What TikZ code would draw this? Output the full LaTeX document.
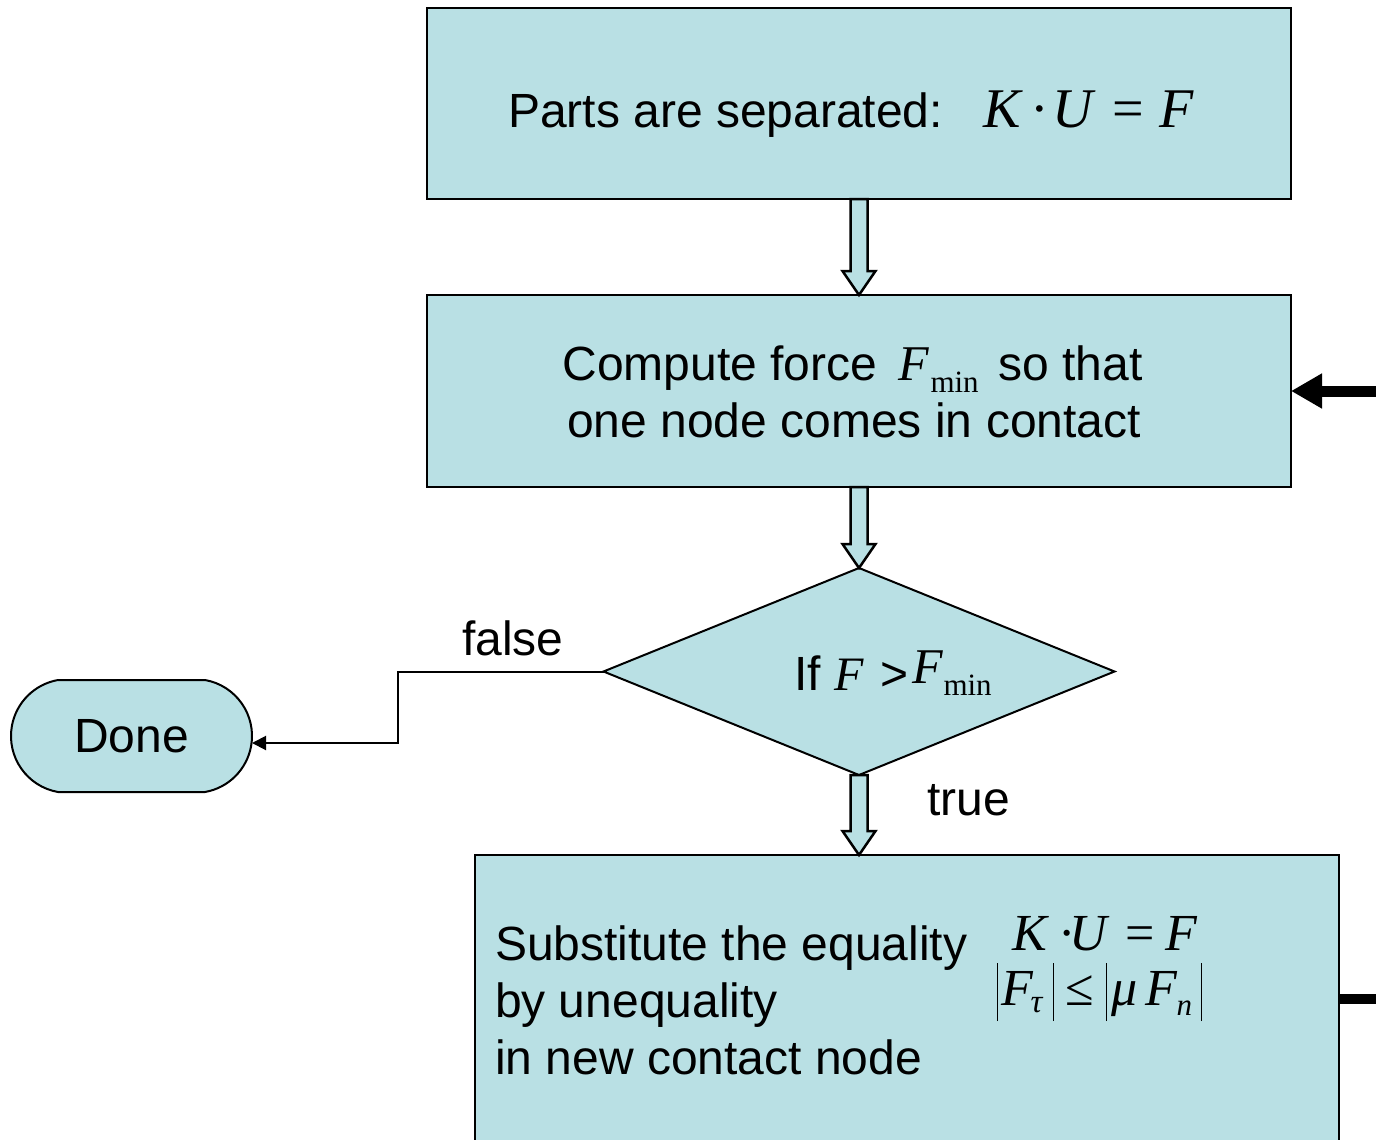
\documentclass[tikz,border=0pt]{standalone}
\usepackage{fontspec}
\setmainfont{Liberation Sans}
\newfontfamily\tms{Liberation Serif}
\usetikzlibrary{arrows.meta,calc,shapes.geometric,shapes.misc}
\definecolor{boxfill}{RGB}{185,224,228}
\newcommand\tm[2]{{\fontsize{#1}{#1}\selectfont\tms\itshape #2}}
\newcommand\tu[2]{{\fontsize{#1}{#1}\selectfont\tms #2}}
\newcommand\at[2]{\rlap{\hspace{#1pt}#2}}
\newcommand\vbar{\rule[-16pt]{1.3pt}{58pt}}
\newcommand\hollowarrow[2]{%
  \draw[hollow] ($(#1)+(-8.5,0)$) -- ($(#2)+(-8.5,-24)$) -- ($(#2)+(-16.5,-24)$)
    -- (#2) -- ($(#2)+(16.5,-24)$) -- ($(#2)+(8.5,-24)$) -- ($(#1)+(8.5,0)$) -- cycle;}
\begin{document}
\begin{tikzpicture}[x=1pt,y=-1pt,
  box/.style={draw=black, line width=2pt, fill=boxfill, rectangle, inner sep=0pt, outer sep=0pt},
  hollow/.style={draw=black, line width=2.5pt, fill=boxfill, line join=miter},
  txt/.style={font=\fontsize{48}{57}\selectfont, anchor=base west, inner sep=0pt, outer sep=0pt},
  conn/.style={draw=black, line width=2pt, -{Triangle[length=14pt,width=14pt]}},
  fat/.style={draw=black, line width=11pt, -{Triangle[length=31pt,width=33pt]}}]
\useasboundingbox (0,0) rectangle (1376,1140);
\clip (0,0) rectangle (1376,1140);

% shapes
\node[box, minimum width=864pt, minimum height=191pt] (box1) at (859,103.5) {};
\node[box, minimum width=864pt, minimum height=192pt] (box2) at (859,391) {};
\node[draw=black, line width=2pt, fill=boxfill, diamond, inner sep=0pt, outer sep=0pt,
      minimum width=511pt, minimum height=207pt] (dia) at (859,671.5) {};
\node[box, minimum width=864pt, minimum height=320pt] (box3) at (907,1015) {};
\node[draw=black, line width=2pt, fill=boxfill, rounded rectangle, rounded rectangle arc length=160,
      inner sep=0pt, outer sep=0pt, minimum width=241pt, minimum height=112pt,
      font=\fontsize{48}{57}\selectfont] (done) at (131.5,736) {Done};

% texts
\node[txt] (t1) at (508,127) {Parts are separated:};
\node[txt] (m1) at (983,127) {\at{0}{\tm{56}{K}}\at{47}{\tu{56}{·}}\at{69}{\tm{56}{U}}\at{129}{\tu{56}{=}}\at{176}{\tm{56}{F}}\hspace{216pt}};
\node[txt] (t2) at (562,380) {\at{0}{Compute force}\at{336}{\tm{50}{F}}\at{368}{\raisebox{-12pt}{\tu{31}{min}}}\at{436}{so that}\hspace{580pt}};
\node[txt, anchor=base] (t2b) at (854,437) {one node comes in contact};
\node[txt] (td) at (794,690) {\at{0}{If}\at{40}{\tm{48}{F}}\at{86}{>}\at{118}{\raisebox{7pt}{\tm{50}{F}}}\at{149}{\raisebox{-5pt}{\tu{31}{min}}}\hspace{200pt}};
\node[txt] (tf) at (462,655) {false};
\node[txt] (tt) at (927,815) {true};
\node[txt] (t3) at (495,960) {\vtop{\baselineskip=57pt\hbox{Substitute the equality}\hbox{by unequality}\hbox{in new contact node}}};
\node[txt] (m3a) at (1012,950) {\at{0}{\tm{52}{K}}\at{46}{\tu{52}{·}}\at{57}{\tm{52}{U}}\at{113}{\tu{52}{=}}\at{153}{\tm{52}{F}}\hspace{190pt}};
\node[txt] (m3b) at (994,1005) {\at{2}{\vbar}\at{7}{\tm{52}{F}}\at{36}{\raisebox{-7pt}{\tm{33}{τ}}}\at{58}{\vbar}\at{71}{\tu{52}{≤}}\at{111}{\vbar}\at{117}{\tm{52}{μ}}\at{151}{\tm{52}{F}}\at{182}{\raisebox{-10pt}{\tm{31}{n}}}\at{206}{\vbar}\hspace{208pt}};

% hollow arrows
\coordinate (a3) at (dia.south |- box3.north);
\hollowarrow{box1.south}{box2.north}
\hollowarrow{box2.south}{dia.north}
\hollowarrow{dia.south}{a3}

% false connector
\coordinate (bend) at (398,0);
\coordinate (doneIn) at ($(done.east)+(0,7)$);
\draw[conn] (dia.west) -- (dia.west -| bend) |- (doneIn);

% external connectors
\coordinate (in2) at (1400,391);
\draw[fat] (in2) -- (box2.east);
\coordinate (out3) at (1400,999);
\draw[draw=black, line width=10pt] (out3 -| box3.east) -- (out3);
\end{tikzpicture}
\end{document}
